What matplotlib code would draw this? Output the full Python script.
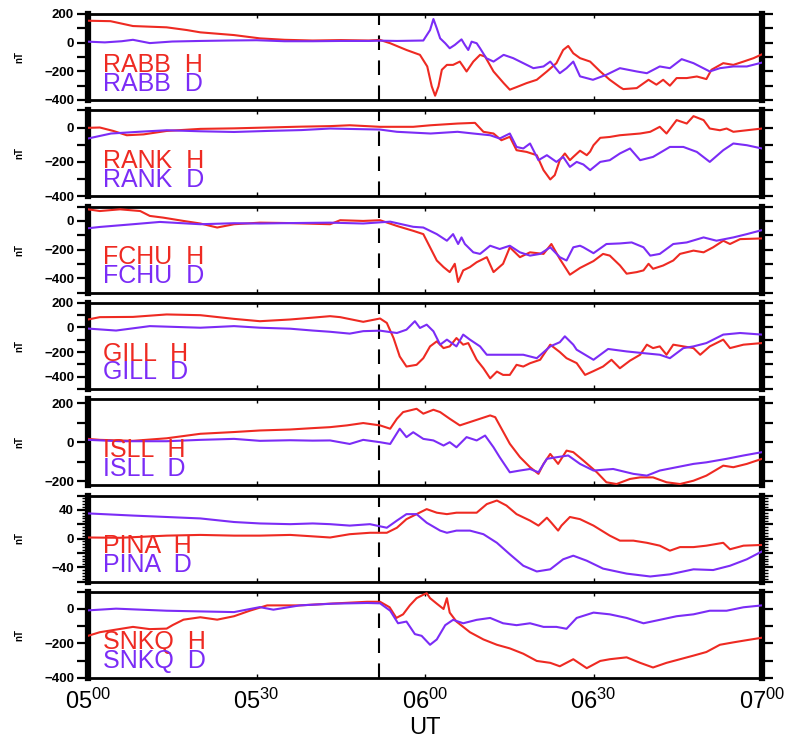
import matplotlib
matplotlib.use('Agg')
import matplotlib.pyplot as plt
import numpy as np

plt.rcParams['font.family'] = ['Liberation Sans', 'DejaVu Sans']

# ---------------------------------------------------------------
# data: minutes after 05:00 UT, nT
# ---------------------------------------------------------------
stations = ['RABB', 'RANK', 'FCHU', 'GILL', 'ISLL', 'PINA', 'SNKQ']
onset_min = 51.8

rabb_h_t = [0, 4, 8, 14, 17.6, 20, 26, 30.6, 35, 40, 45, 50, 52, 53.8, 56.7, 59.1, 60.4, 61.2, 61.8, 62.4,
            63, 63.9, 65, 66.2, 66.8, 67.4, 68.6, 69.8, 70.7, 72.2, 74, 75.1, 76.3, 78.1, 79.9, 81.7, 83.4,
            84.6, 85.5, 86.4, 87.6, 89.4, 91.2, 92.9, 94.7, 95.3, 97.7, 99.8, 101.2, 102.4, 103.6, 104.8,
            106.6, 108.4, 110.1, 111, 113.1, 114.9, 116.7, 118.5, 120]
rabb_h = [153, 150, 116, 107, 88, 72, 53, 30, 20, 15, 18, 15, 19, -4, -51, -85, -166, -305, -370, -305,
          -189, -155, -155, -132, -166, -201, -132, -85, -97, -201, -282, -328, -310, -282, -259, -201, -143,
          -51, -23, -74, -108, -132, -201, -259, -310, -324, -317, -259, -293, -259, -300, -247,
          -247, -236, -254, -189, -143, -155, -132, -108, -81]
rabb_d_t = [0, 3, 6, 8, 11, 15, 20, 25, 30, 35, 40, 45, 50, 52, 55, 59.7, 60.9, 61.5, 62.1, 62.7, 63.6,
            64.4, 65.3, 66.5, 67.1, 67.7, 68.3, 69.2, 69.8, 70.9, 72.2, 74, 75.7, 77.5, 79.3, 81.1, 82.3, 84,
            85.2, 86.4, 87.6, 89.9, 92.3, 94.7, 97.7, 99.5, 101.8, 103.6, 105.7, 107.8, 110.7, 112.5,
            114.9, 117.3, 120]
rabb_d = [7, 2, 10, 20, -3, 8, 12, 15, 17, 10, 10, 12, 12, 14, 12, 15, 88, 165, 100, 30, -4,
          -39, -16, 23, -16, -51, 7, -4, -39, -108, -132, -85, -108, -143, -178, -166, -132, -213,
          -178, -132, -235, -259, -224, -178, -201, -213, -166, -178, -115, -143, -201, -178,
          -166, -166, -139]

rank_h_t = [0, 2.1, 4.5, 6.9, 9.9, 14, 20, 26, 32, 38, 43.1, 46.6, 52, 57.9, 61, 65.8, 68.9, 70.4, 72.2,
            73.6, 75.1, 76.3, 78.1, 79.9, 81.1, 82.3, 83.1, 84, 84.9, 85.8, 86.4, 87.6, 88.8, 89.4, 90,
            91.2, 92.9, 94.7, 96.5, 98.3, 100.1, 101.8, 103, 104.8, 106.6, 107.8, 109.6, 110.7, 112.5,
            113.7, 114.9, 117.3, 120]
rank_h = [-2, 0, -20, -45, -40, -20, -8, -5, 0, 5, 8, 13, 4, 4, 13, 23, 27, -25, -35,
          -74, -54, -132, -142, -161, -248, -302, -277, -190, -151, -190, -171, -135, -161, -140, -103,
          -60, -55, -45, -40, -35, -25, 4, -35, 43, 23, 66, 43, -6, -16,
          -6, -25, -16, -6]
rank_d_t = [0, 4.1, 9, 14, 20, 26, 32, 38, 43.1, 52, 55, 61, 65.8, 68.6, 71.6, 73.3, 75.1, 76.3, 77.5,
            78.7, 80.2, 81.7, 83.4, 84.6, 85.8, 87, 88.2, 89.4, 91.2, 92.9, 94.7, 96.5, 98.3, 100.6, 103.6,
            106, 108.4, 110.7, 113.1, 114.9, 117.3, 120]
rank_d = [-64, -35, -25, -16, -22, -26, -20, -15, -6, -12, -25, -35, -25, -35, -45, -64, -35, -113, -122,
          -93, -190, -161, -200, -171, -229, -200, -215, -248, -200, -190, -151, -122, -190, -171, -113,
          -113, -142, -200, -132, -93, -103, -122]

fchu_h_t = [0, 2.1, 5.7, 9.3, 11, 13.4, 17, 20, 23, 26, 30.6, 36, 43.1, 44.9, 49, 52, 55, 57.9, 59.7,
            60.9, 62.1, 63.3, 64.4, 65.3, 65.9, 66.8, 68, 69.2, 71, 72.2, 73.9, 75.1, 76.9, 78.7, 81.1,
            82.5, 84, 85.8, 87.6, 90, 91.7, 92.9, 94.7, 95.9, 97.7, 98.9, 99.8, 100.6, 102.4, 104.2,
            105.4, 107.8, 109.6, 111.3, 113.1, 114.3, 116.1, 120]
fchu_h = [81, 69, 81, 69, 35, 23, 0, -18, -46, -23, -12, -15, -23, 5, 0, 5, -35, -69, -92,
          -184, -276, -322, -357, -299, -426, -345, -322, -288, -253, -357, -299, -184, -253, -219, -230,
          -161, -265, -375, -328, -280, -230, -242, -310, -368, -357, -345, -299, -334, -311, -276,
          -230, -207, -219, -184, -138, -161, -127, -122]
fchu_d_t = [0, 2.1, 8, 12.8, 20, 26, 30.6, 36, 43.1, 49, 53.8, 57.9, 59.7, 62.1, 63.9, 65, 65.9, 66.5,
            67.1, 68.6, 69.8, 71.6, 73.3, 75.1, 76.9, 78.7, 80.5, 82.3, 84, 85.2, 86.4, 87.6, 88.2, 90,
            92.3, 94.7, 96.8, 98.9, 100.1, 101.8, 104.2, 106.6, 109.6, 111.9, 114.9, 117.3, 120]
fchu_d = [-51, -42, -23, -7, -23, -16, -18, -15, -12, -18, -5, -41, -46, -92, -138, -92, -161, -115,
          -161, -219, -230, -173, -196, -173, -219, -242, -230, -184, -253, -276, -184, -173, -184, -225,
          -161, -157, -150, -184, -242, -230, -161, -150, -115, -138, -115, -92, -64]

gill_h_t = [0, 2.1, 8, 14, 20, 26, 30.6, 36, 40, 43.1, 44.9, 49, 52, 53.2, 54.4, 55.5, 56.7, 58.5, 59.7,
            60.9, 62.1, 63.3, 64.4, 65.6, 66.8, 67.7, 69.2, 70.4, 71.6, 72.8, 73.9, 75.1, 76.3, 77.5, 78.7,
            80.5, 82.3, 84, 85.2, 87, 88.5, 90, 91.7, 93.2, 94.7, 96.5, 98.3, 99.5, 100.6, 101.8,
            103, 104.2, 106, 107.8, 109, 110.7, 113.1, 114.3, 116.7, 120]
gill_h = [65, 84, 86, 106, 100, 70, 51, 65, 80, 92, 84, 46, 73, 37, -86, -236, -318, -304, -250,
          -154, -113, -168, -154, -86, -140, -127, -263, -332, -414, -359, -386, -386, -304, -318, -291,
          -263, -140, -200, -250, -290, -386, -355, -318, -263, -332, -270, -222, -140, -168, -154,
          -222, -140, -154, -168, -222, -154, -99, -168, -140, -127]
gill_d_t = [0, 5, 11, 20, 26, 30.6, 36, 40, 43.1, 46.6, 49, 52, 55, 56.7, 58.2, 59.1, 60.3, 61.5, 62.7,
            63.9, 65.6, 66.8, 68, 69.8, 71, 73.9, 77.5, 79.9, 82.3, 84, 84.9, 86.4, 87, 90, 92.6,
            95.9, 98.9, 101.8, 103.6, 106, 107.8, 110.1, 113.1, 116.1, 120]
gill_d = [-9, -25, 11, -2, 11, -2, -10, -25, -35, -50, -30, -26, -45, -18, 51, -4, 23, -31, -140,
          -99, -154, -58, -99, -154, -222, -222, -222, -250, -154, -120, -72, -140, -181, -263, -175,
          -195, -209, -222, -250, -168, -154, -127, -58, -45, -58]

isll_h_t = [0, 2.1, 8, 14, 20, 26, 30.6, 36, 40, 43.1, 46.1, 49, 52, 53.8, 55, 56.1, 58.5, 59.7, 61.5,
            62.7, 64.4, 66.2, 68, 69.8, 71.6, 72.5, 73.3, 75.1, 76.9, 78.7, 80.2, 81.1, 82.3, 83.7, 85.2,
            86.4, 88.2, 90.6, 92.3, 94.1, 96.5, 98.3, 100.6, 103, 105.4, 107.8, 110.1, 113.1, 114.9,
            117.3, 120]
isll_h = [17, 12, 7, 20, 43, 52, 60, 65, 72, 77, 86, 98, 86, 69, 120, 154, 171, 146, 166,
          154, 120, 86, 103, 120, 137, 128, 86, -8, -76, -128, -162, -111, -60, -111, -43,
          -51, -94, -154, -205, -214, -188, -180, -180, -205, -214, -197, -171, -120, -128,
          -111, -85]
isll_d_t = [0, 5.7, 14, 20, 26, 30.6, 36, 40, 43.1, 46.6, 49, 52, 53.8, 55.5, 56.7, 57.9, 59.7, 61.5,
            63.3, 64.4, 65.6, 67.4, 69.2, 70.7, 72.2, 73.3, 75.1, 76.9, 78.7, 80.2, 81.7, 83.4, 85.5, 87.6,
            90, 93.5, 97.1, 99.5, 101.8, 104.8, 107.8, 110.1, 113.7, 116.7, 120]
isll_d = [12, 5, 5, 12, 17, 7, 10, 8, 9, -9, 12, 0, -9, 69, 26, 51, 17, 9,
          -17, 0, -26, 26, 9, 34, -26, -77, -154, -145, -137, -154, -85, -77, -68, -111,
          -145, -137, -162, -171, -145, -128, -111, -103, -85, -68, -51]

pina_h_t = [0, 5.7, 14, 20, 26, 30.6, 36, 40, 43.1, 46.6, 50.2, 53.2, 55, 56.7, 58.5, 60.3, 62.1, 63.9,
            65.6, 67.4, 69.2, 71, 72.8, 74.5, 76.3, 78.7, 80.2, 81.7, 82.5, 83.7, 84.3, 85.8, 87.6, 90,
            92.9, 94.7, 97.1, 99.5, 101.8, 103.6, 105.4, 107.8, 110.1, 113.1, 114.3, 116.7, 120]
pina_h = [1.4, 1, 4, 5, 4, 4, 5, 3, 1.4, 6, 8, 8, 15, 27, 34, 41, 36, 34,
          36, 36, 36, 48, 53, 46, 34, 25, 18, 29, 22, 11, 18, 30, 27, 18,
          4, -3, -3, -6, -10, -17, -12, -12, -10, -6, -15, -10, -9]
pina_d_t = [0, 8, 14, 20, 26, 30.6, 36, 40, 43.1, 46.6, 50.2, 53.2, 55, 56.7, 58.5, 60.3, 62.7, 63.9,
            65.6, 68, 70.4, 72.8, 75.1, 77.5, 79.9, 82.3, 84.6, 86.4, 88.8, 91.7, 95.9, 100.1, 103.6,
            107.8, 111.3, 114.3, 117.3, 120]
pina_d = [35, 32, 30, 28, 23, 21, 20, 21, 20, 18, 20, 15, 25, 34, 34, 22, 11, 8,
          11, 11, 6, -6, -22, -38, -46, -43, -29, -24, -31, -42, -49, -53, -50,
          -43, -44, -38, -29, -18]

snkq_h_t = [0, 2.1, 8, 11, 14, 15.1, 17, 20, 23, 26, 28.8, 31.9, 37.7, 43.1, 49.7, 52, 53.7, 54.9, 56.1,
            57.3, 58.5, 59.7, 60.3, 60.9, 62.1, 63.3, 63.9, 64.4, 65.6, 68, 70.4, 72.8, 75.1, 77.5, 79.9,
            82.3, 84, 86.4, 88.8, 91.2, 92.9, 95.9, 98.3, 100.6, 103, 105.4, 107.8, 110.1, 112.5, 114.9,
            117.3, 120]
snkq_h = [-156, -135, -104, -117, -114, -93, -62, -48, -62, -42, -10, 21, 21, 31, 42, 42, 10, -52, -31,
          21, 63, 83, 92, 63, 31, 0, 63, -21, -73, -135, -177, -208, -229, -260, -302,
          -313, -333, -292, -344, -302, -292, -281, -313, -340, -313, -292, -271, -250, -208, -194,
          -181, -167]
snkq_d_t = [0, 5, 14, 20, 26, 30.6, 33, 37.7, 43.6, 49.7, 52, 53.8, 55.2, 56.7, 58.2, 59.4, 60.9, 62.1,
            63.6, 65, 66.8, 69.2, 71.6, 73.9, 76.3, 78.7, 81.1, 83.4, 85.2, 87, 90, 92.9, 95.9, 98.9,
            101.8, 104.8, 107.8, 110.7, 113.7, 116.7, 120]
snkq_d = [-8, 2, -10, -14, -18, 11, -4, 21, 31, 35, 33, -10, -83, -73, -146, -156, -208, -177,
          -94, -63, -83, -63, -52, -83, -94, -83, -104, -104, -115, -52, -21, -31, -52, -83,
          -63, -42, -31, -10, -10, 10, 21]

h_series = [(rabb_h_t, rabb_h), (rank_h_t, rank_h), (fchu_h_t, fchu_h), (gill_h_t, gill_h),
            (isll_h_t, isll_h), (pina_h_t, pina_h), (snkq_h_t, snkq_h)]
d_series = [(rabb_d_t, rabb_d), (rank_d_t, rank_d), (fchu_d_t, fchu_d), (gill_d_t, gill_d),
            (isll_d_t, isll_d), (pina_d_t, pina_d), (snkq_d_t, snkq_d)]

# axis ranges / ticks per panel
ylims = [(-400, 200), (-400, 100), (-500, 100), (-500, 200), (-220, 220), (-60, 60), (-400, 100)]
tick_step = [100, 100, 100, 100, 100, 20, 100]
label_step = [200, 200, 200, 200, 200, 40, 200]
minor_step = [None, None, None, None, None, 4, None]

xticks = [0, 30, 60, 90, 120]
xticklabels = [r'$\mathregular{05^{00}}$', r'$\mathregular{05^{30}}$', r'$\mathregular{06^{00}}$',
               r'$\mathregular{06^{30}}$', r'$\mathregular{07^{00}}$']

RED = '#ee2a22'
PURPLE = '#7b2cf6'

# ---------------------------------------------------------------
fig = plt.figure(figsize=(7.9, 7.55), dpi=100)
W, H = 790, 755
x0, x1 = 88, 762
top0, pitch, hgt = 14, 96.3, 86

for i, name in enumerate(stations):
    top = top0 + i * pitch
    ax = fig.add_axes([x0 / W, 1 - (top + hgt) / H, (x1 - x0) / W, hgt / H])

    ht, hv = h_series[i]
    dt, dv = d_series[i]
    ax.plot(ht, hv, color=RED, lw=1.5, zorder=3)
    ax.plot(dt, dv, color=PURPLE, lw=1.5, zorder=3)
    ax.axvline(onset_min, color='k', lw=1.5, ls=(0, (7, 5)), zorder=2)

    ax.text(0.022, 0.33, f'{name}  H', transform=ax.transAxes, color=RED,
            fontsize=18, va='baseline', zorder=4)
    ax.text(0.022, 0.11, f'{name}  D', transform=ax.transAxes, color=PURPLE,
            fontsize=18, va='baseline', zorder=4)

    lo, hi = ylims[i]
    ax.set_xlim(0, 120)
    ax.set_ylim(lo, hi)

    st = tick_step[i]
    yt = np.arange(np.ceil(lo / st) * st, hi + 0.1, st)
    labs = []
    for v in yt:
        if abs(v / label_step[i] - round(v / label_step[i])) < 1e-6:
            labs.append(f'{int(v)}'.replace('-', '\u2212'))
        else:
            labs.append('')
    ax.set_yticks(yt)
    ax.set_yticklabels(labs, fontweight='bold', fontsize=9.5)
    if minor_step[i]:
        ax.set_yticks(np.arange(lo, hi + 0.1, minor_step[i]), minor=True)
        ax.tick_params(axis='y', which='minor', direction='out', length=4, width=1,
                       left=True, right=True)

    ax.tick_params(axis='y', which='major', direction='out', length=8, width=1.6,
                   left=True, right=True, pad=2)
    ax.set_xticks(xticks)
    ax.tick_params(axis='x', direction='in', length=3, width=1, top=True, bottom=True)

    for side in ['left', 'right']:
        ax.spines[side].set_linewidth(4.5)
    for side in ['top', 'bottom']:
        ax.spines[side].set_linewidth(2)

    ax.set_ylabel('nT', fontsize=7, fontweight='bold')
    ax.yaxis.set_label_coords(-0.095, 0.5)

    if i == len(stations) - 1:
        ax.set_xticklabels(xticklabels, fontsize=17)
        ax.tick_params(axis='x', pad=8)
        ax.set_xlabel('UT', fontsize=17, labelpad=2)
    else:
        ax.set_xticklabels([])

fig.savefig('out.png', dpi=100)
